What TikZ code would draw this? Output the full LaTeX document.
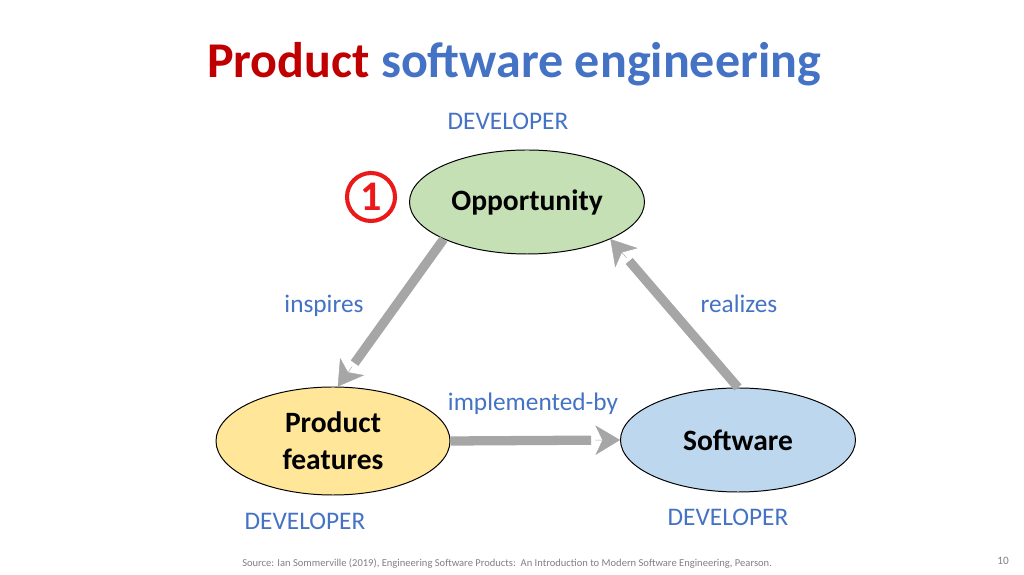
\documentclass[tikz,border=0pt]{standalone}
\usepackage{fontspec}
\setmainfont{Carlito}
\usetikzlibrary{shapes.geometric,arrows.meta,calc}
\begin{document}
\begin{tikzpicture}[
  bubble/.style={shape=ellipse,draw,line width=0.7pt,inner sep=0pt,align=center,font=\fontsize{21}{26}\selectfont\bfseries},
  role/.style={anchor=base,text=slideblue,font=\fontsize{18}{22}\selectfont},
  shaft/.style={draw=flowgray,line width=6.6pt,shorten >=20.5pt},
  head/.style={draw=flowgray,line width=0.3pt,-{Stealth[length=17.5pt,width=21pt,inset=5pt]}}]
\definecolor{slidered}{RGB}{192,0,0}
\definecolor{markred}{RGB}{235,25,25}
\definecolor{slideblue}{RGB}{68,114,196}
\definecolor{flowgray}{RGB}{166,166,166}
\definecolor{oppgreen}{RGB}{197,224,180}
\definecolor{featyellow}{RGB}{255,230,153}
\definecolor{softblue}{RGB}{189,215,238}
\useasboundingbox[fill=white] (0,0) rectangle (25.6,14.375);

% title
\node[anchor=base,font=\fontsize{35.6}{42}\selectfont\bfseries] (title) at (12.85,12.425)
  {\textcolor{slidered}{Product} \textcolor{slideblue}{software engineering}};

% the three ellipses
\node[bubble,fill=oppgreen,minimum width=5.875cm,minimum height=2.6cm] (opp) at (13.175,9.325) {Opportunity};
\node[bubble,fill=featyellow,minimum width=5.85cm,minimum height=2.7cm] (feat) at (8.325,3.35) {Product\\features};
\node[bubble,fill=softblue,minimum width=5.875cm,minimum height=2.6cm] (soft) at (18.45,3.375) {Software};

% step marker
\node[shape=circle,draw=markred,line width=2.9pt,minimum size=1.2cm,inner sep=0pt,text=markred,font=\fontsize{30}{32}\selectfont\bfseries] (step1) at (9.275,9.45) {1};

% arrows: shaft, then a head with a small gap
\draw[shaft] (opp.204) -- (feat.85);
\draw[head] ($(feat.85)!17.55pt!(opp.204)$) -- (feat.85);
\draw[shaft] (soft.north) -- (opp.336);
\draw[head] ($(opp.336)!17.55pt!(soft.north)$) -- (opp.336);
\draw[shaft] (feat.east) -- (soft.west);
\draw[head] ($(soft.west)!17.55pt!(feat.east)$) -- (soft.west);

% labels
\node[role] (inspires) at (8.1,6.55) {inspires};
\node[role] (realizes) at (18.475,6.55) {realizes};
\node[role] (implby) at (13.325,4.1) {implemented-by};
\node[role] (devtop) at (12.7,11.125) {DEVELOPER};
\node[role] (devleft) at (7.625,1.125) {DEVELOPER};
\node[role] (devright) at (18.2,1.225) {DEVELOPER};

% footer
\node[anchor=base west,inner sep=0pt,text=gray,font=\fontsize{7.5}{9}\selectfont] (source) at (6.05,0.2)
  {Source: Ian Sommerville (2019), Engineering Software Products:\ \ An Introduction to Modern Software Engineering, Pearson.};
\node[anchor=base,text=gray,font=\fontsize{8}{9}\selectfont] (page) at (25.075,0.25) {10};
\end{tikzpicture}
\end{document}
